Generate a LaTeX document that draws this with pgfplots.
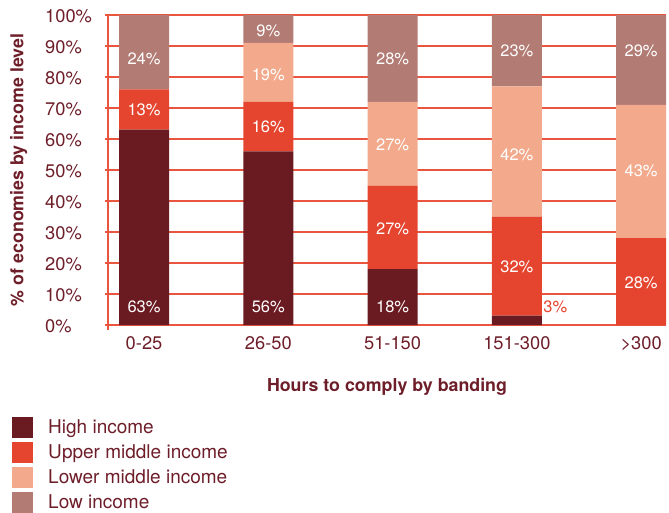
\documentclass[border=0pt]{standalone}
\usepackage{pgfplots}
\pgfplotsset{compat=1.18}
\usepackage{fontspec}
\setmainfont{TeX Gyre Heros}
\definecolor{hi}{HTML}{6A1A21}
\definecolor{um}{HTML}{E5452F}
\definecolor{lm}{HTML}{F3AA8C}
\definecolor{lo}{HTML}{B27B74}
\definecolor{txt}{HTML}{6E1E29}
\definecolor{grd}{HTML}{E9553F}
\newcommand{\fs}{\fontsize{16.5}{19}\selectfont}
\newcommand{\ft}{\fontsize{18.3}{21}\selectfont}
\newcommand{\fl}{\fontsize{17.8}{21}\selectfont}
\newcommand{\fg}{\fontsize{19}{22}\selectfont}
\begin{document}
\begin{tikzpicture}[x=1pt,y=1pt]
\path[use as bounding box] (0,0) rectangle (669,512);
\pgfplotsset{
  common/.style={
    at={(108pt,187pt)}, anchor=south west,
    scale only axis, width=558pt, height=310pt,
    xmin=-0.29, xmax=4.2, ymin=0, ymax=100,
  }
}
\begin{axis}[common,
  ybar stacked, bar width=50pt,
  axis lines*=left,
  axis line style={grd, line width=1.2pt},
  y axis line style={shorten <=-5pt},
  xtick={0,1,2,3,4},
  xticklabels={0-25,26-50,51-150,151-300,{>300}},
  ytick={0,10,...,100},
  yticklabel={\pgfmathprintnumber{\tick}\%},
  /pgf/number format/assume math mode=true,
  tick align=outside,
  major tick length=3pt,
  xtick style={draw=none},
  ytick style={grd, line width=1.2pt},
  ymajorgrids,
  grid style={grd, line width=1.2pt},
  tick label style={font=\ft, text=txt},
  yticklabel style={anchor=base west, inner sep=0pt, xshift=-60pt, yshift=-7pt},
  xticklabel style={anchor=base, inner sep=0pt, yshift=-21pt},
  xlabel={Hours to comply by banding},
  xlabel style={font=\fl\bfseries, text=txt, at={(axis description cs:0.5,-0.216)}, anchor=base},
  ylabel={\% of economies by income level},
  ylabel style={font=\fl\bfseries, text=txt, at={(axis description cs:-0.16,0.5)}, anchor=center, rotate=0},
  legend style={at={(axis description cs:0,0)}, anchor=north west, xshift=-96pt, yshift=-92pt,
    draw=none, fill=none, inner sep=0pt, row sep=4pt, column sep=15pt,
    font=\fg, text=txt, nodes={inner sep=0pt, anchor=base west}},
  legend cell align=left,
  legend image code/.code={\fill[#1] (0pt,-5pt) rectangle (21pt,16pt);},
]
\addplot[fill=hi, draw=none] coordinates {(0,63) (1,56) (2,18) (3,3) (4,0)};
\addplot[fill=um, draw=none] coordinates {(0,13) (1,16) (2,27) (3,32) (4,28)};
\addplot[fill=lm, draw=none] coordinates {(0,0) (1,19) (2,27) (3,42) (4,43)};
\addplot[fill=lo, draw=none] coordinates {(0,24) (1,9) (2,28) (3,23) (4,29)};
\legend{High income, Upper middle income, Lower middle income, Low income}
\end{axis}
\begin{axis}[common, hide axis]
\addplot[draw=none, mark=none, nodes near coords, point meta=explicit symbolic,
  nodes near coords style={text=white, anchor=center, font=\fs}]
  coordinates {
  (0,6) [63\%] (0,69.5) [13\%] (0,86) [24\%]
  (1,6) [56\%] (1,64) [16\%] (1,80.8) [19\%] (1,94.8) [9\%]
  (2,6) [18\%] (2,31) [27\%] (2,58) [27\%] (2,86) [28\%]
  (3,18.8) [32\%] (3,55) [42\%] (3,88.4) [23\%]
  (4,13.7) [28\%] (4,49.6) [43\%] (4,88.4) [29\%]
  };
\addplot[draw=none, mark=none, nodes near coords, point meta=explicit symbolic,
  nodes near coords style={text=um, anchor=center, font=\fs}]
  coordinates {(3.31,6) [3\%]};
\end{axis}
\end{tikzpicture}
\end{document}
